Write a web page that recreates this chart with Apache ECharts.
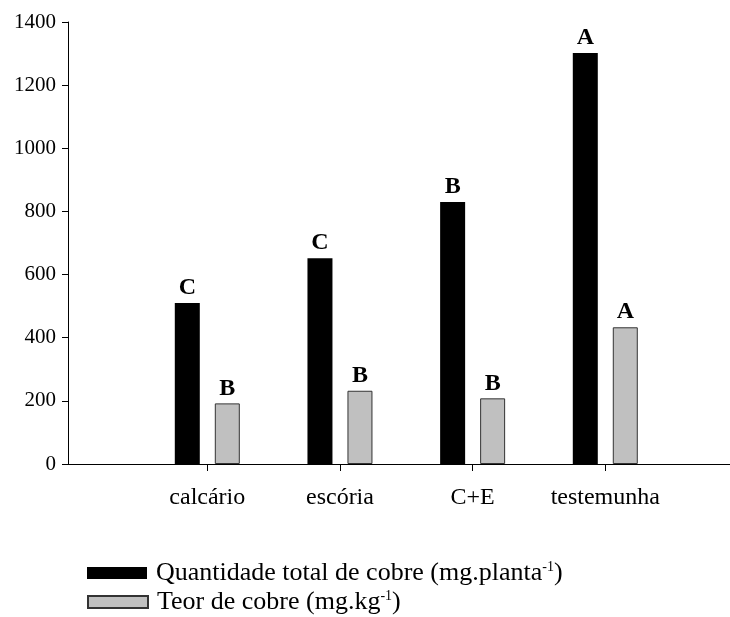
<!DOCTYPE html>
<html>
<head>
<meta charset="utf-8">
<script src="https://cdn.jsdelivr.net/npm/echarts@6/dist/echarts.min.js"></script>
<style>html,body{margin:0;padding:0;background:#fff}#c{width:730px;height:617px}</style>
</head>
<body>
<div id="c"></div>
<script>
var categories = ['calcário', 'escória', 'C+E', 'testemunha'];
var categoryPos = [1, 2, 3, 4];
var totalCobre = [510, 652, 830, 1302];
var teorCobre = [192, 232, 208, 433];
var totalLetters = ['C', 'C', 'B', 'A'];
var teorLetters = ['B', 'B', 'B', 'A'];
var yTicks = [0, 200, 400, 600, 800, 1000, 1200, 1400];
var seriesNames = ['Quantidade total de cobre (mg.planta-1)', 'Teor de cobre (mg.kg-1)'];

var FONT = '"Liberation Serif", "Times New Roman", serif';

function pairs(vals) {
  return vals.map(function (v, i) { return [categoryPos[i], v]; });
}

function legendFor(name, top) {
  return {
    orient: 'vertical',
    left: 82,
    top: top,
    itemWidth: 60,
    itemHeight: 12,
    icon: 'rect',
    data: [name],
    formatter: function (n) { return n.replace('-1', '{sup|-1}'); },
    textStyle: {
      fontFamily: FONT, fontSize: 26, color: '#000', padding: [0, 0, 0, 4],
      rich: {sup: {fontFamily: FONT, fontSize: 14, color: '#000', verticalAlign: 'top'}}
    }
  };
}

var chart = echarts.init(document.getElementById('c'), null, {renderer: 'canvas'});
chart.setOption({
  animation: false,
  backgroundColor: '#fff',
  grid: {left: 68, right: 0, top: 22, bottom: 153, containLabel: false, outerBoundsMode: 'none'},
  xAxis: {
    type: 'value',
    min: -0.05,
    max: 4.94,
    splitLine: {show: false},
    axisLine: {show: true, onZero: false, lineStyle: {color: '#000', width: 1}},
    axisTick: {show: true, customValues: categoryPos, length: 7, lineStyle: {color: '#000', width: 1}},
    axisLabel: {
      show: true,
      customValues: categoryPos,
      formatter: function (v) { return categories[Math.round(v) - 1] || ''; },
      fontFamily: FONT, fontSize: 24, color: '#000', margin: 22
    }
  },
  yAxis: {
    type: 'value',
    min: 0, max: 1400, interval: 200,
    splitLine: {show: false},
    axisLine: {show: true, onZero: false, lineStyle: {color: '#000', width: 1}},
    axisTick: {show: true, length: 6, lineStyle: {color: '#000', width: 1}},
    axisLabel: {
      fontFamily: FONT, fontSize: 21, color: '#000', margin: 12,
      formatter: function (v) { return yTicks.indexOf(v) >= 0 ? String(v) : ''; }
    }
  },
  legend: [legendFor(seriesNames[0], 555), legendFor(seriesNames[1], 584)],
  series: [
    {
      name: seriesNames[0],
      type: 'bar',
      barWidth: 25,
      barGap: '60%',
      data: pairs(totalCobre),
      itemStyle: {color: '#000', borderColor: '#000', borderWidth: 0},
      label: {
        show: true, position: 'top', distance: 3,
        formatter: function (p) { return totalLetters[p.dataIndex]; },
        fontFamily: FONT, fontSize: 24, fontWeight: 'bold', color: '#000'
      }
    },
    {
      name: seriesNames[1],
      type: 'bar',
      barWidth: 25,
      barGap: '60%',
      data: pairs(teorCobre),
      itemStyle: {color: '#c0c0c0', borderColor: '#333', borderWidth: 1},
      label: {
        show: true, position: 'top', distance: 3,
        formatter: function (p) { return teorLetters[p.dataIndex]; },
        fontFamily: FONT, fontSize: 24, fontWeight: 'bold', color: '#000'
      }
    }
  ]
});
</script>
</body>
</html>
